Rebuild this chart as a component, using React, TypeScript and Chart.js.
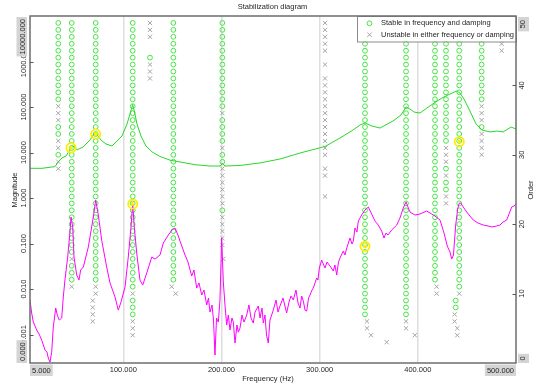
import React, { useEffect, useRef } from 'react';
import { Chart, registerables } from 'chart.js';

Chart.register(...registerables);

// ---------- data ----------
const chartTitle = 'Stabilization diagram';
const xTitle = 'Frequency (Hz)';
const magTitle = 'Magnitude';
const orderTitle = 'Order';
const legendLabels = ['Stable in frequency and damping', 'Unstable in either frequency or damping'];

const xTicks = [5, 100, 200, 300, 400, 500];
const xGrid = [100, 200, 300, 400];
const magTicks = [10000, 1000, 100, 10, 1, 0.1, 0.01, 0.001];
const magMinLabel = '0.000';
const orderTicks = [0, 10, 20, 30, 40, 50];

const greenFreq = [5, 17.2, 30.5, 33.8, 37.6, 41.7, 46.8, 49.8, 52.9, 59, 66.1, 69.7, 71.9, 74.3, 77.3, 82.4, 88.5, 93.6, 98.7, 103.8, 107.4, 109.6, 111.4, 114, 118, 123.1, 129.3, 137.4, 147.6, 157.8, 173, 188.3, 198.5, 201, 203.6, 218.9, 239.3, 259.6, 280, 295.3, 305.5, 320.7, 334, 341.1, 346.2, 353.3, 361.5, 374.7, 382.9, 388, 392, 396.1, 402.2, 409.3, 416.5, 424.6, 432.8, 439.4, 443, 447, 453.1, 459.3, 465.4, 473.5, 480.7, 486.8, 495, 500];
const greenMag = [4.5, 4.5, 4.9, 6.2, 7.6, 8.4, 12.6, 13.9, 11.4, 13.2, 18.8, 24.9, 27.5, 23.1, 18.8, 15.4, 13.9, 17.9, 23.1, 42.3, 77.6, 113, 77.6, 42.3, 23.1, 13.9, 10.3, 8.2, 6.8, 6.2, 5.4, 5.05, 5.05, 5.7, 5.05, 5.2, 5.9, 7.2, 9.75, 11.9, 13.6, 20.8, 31.3, 40.2, 44.5, 38.2, 34.5, 49.2, 66.7, 100, 90.4, 77.6, 73.8, 95, 122, 158, 193, 225, 203, 150, 81.7, 42.3, 31.3, 28.3, 29.7, 28.3, 36.3, 32.8];

const magentaFreq = [
  5, 6.7, 8.4, 11.8, 14.2, 16.9, 20.3, 22.3, 23.6, 25.4,
  27.1, 28.7, 31.2, 32.8, 34.8, 37.3, 38.9, 40.6, 43.4, 45.7,
  46.8, 48.5, 49.8, 52.6, 54.9, 56.6, 59.3, 64.4, 69.5, 71.9,
  74.6, 78, 83.1, 86.5, 91.6, 94.9, 97.4, 101.8, 105.1, 107.9,
  109.6, 111.2, 113.7, 117, 119.8, 123.9, 129, 132.3, 137.4, 140.8,
  145.9, 149.6, 152.7, 155.7, 157.8, 162.9, 165.9, 169.7, 172, 174.8,
  177.1, 179.9, 182.2, 185, 186.8, 188.3, 190.4, 191.9, 193.4, 195,
  196.8, 198.5, 200.2, 201.9, 203.6, 205.3, 207, 208.7, 210.7, 212.1,
  213.8, 215.8, 217.2, 218.9, 220.9, 223, 225.7, 228, 230.1, 232.4,
  234.2, 237.5, 239.3, 241.3, 242.6, 244.3, 245.9, 247.7, 249.4, 252.8,
  255.6, 257.6, 259.6, 262.7, 266.4, 268.8, 270.8, 273.2, 275.9, 278,
  280, 281.7, 283.4, 285.1, 286.8, 288.7, 290.2, 292.2, 293.5, 295.3,
  297, 298.3, 299.7, 302.1, 303.7, 305.5, 307.5, 310.6, 313.9, 315.6,
  317.4, 319.2, 320.7, 324.1, 325.8, 327.6, 330.9, 333, 334.3, 336,
  338, 339.4, 342.8, 346.2, 349.6, 353, 356.4, 359.7, 363.2, 365.5,
  367.6, 369.6, 373.4, 378.5, 381.8, 385.2, 388, 390, 392, 397.1,
  402.2, 409, 414.1, 417.5, 422.6, 426.7, 430, 432.8, 434.5, 436.3,
  438.6, 440.6, 442.2, 443.7, 446.3, 449.8, 453.1, 456.5, 461.3, 466.7,
  471.5, 475.6, 480.3, 483.7, 486.8, 490.5, 492.9, 495.6, 498, 500,
];
const magentaMag = [
  0.00573, 0.00297, 0.00188, 0.00126, 0.00103, 0.000757, 0.000456, 0.000412, 0.000305, 0.000249,
  0.000412, 0.00146, 0.00382, 0.00268, 0.00208, 0.00231, 0.00667, 0.0158, 0.0505, 0.179,
  0.382, 0.231, 0.0505, 0.0203, 0.0158, 0.0262, 0.0305, 0.0838, 0.382, 0.904,
  0.423, 0.119, 0.0305, 0.0136, 0.00667, 0.00345, 0.00492, 0.0111, 0.0505, 0.231,
  0.738, 0.231, 0.0618, 0.0158, 0.0122, 0.0225, 0.0505, 0.0456, 0.0559, 0.103,
  0.154, 0.198, 0.219, 0.154, 0.113, 0.0559, 0.0392, 0.0193, 0.0262, 0.0105,
  0.0136, 0.00738, 0.0095, 0.00445, 0.00634, 0.00312, 0.00445, 0.00208, 0.000354, 0.00231,
  0.00188, 0.00573, 0.132, 0.0143, 0.00445, 0.00162, 0.00268, 0.00126, 0.00231, 0.00188,
  0.00065, 0.00162, 0.00113, 0.00139, 0.00268, 0.00188, 0.00268, 0.00445, 0.00231, 0.00179,
  0.00312, 0.00423, 0.00231, 0.00382, 0.00179, 0.00268, 0.000975, 0.00065, 0.00208, 0.00345,
  0.00573, 0.00312, 0.00423, 0.00634, 0.00297, 0.00518, 0.00702, 0.00573, 0.0095, 0.00492,
  0.00382, 0.00702, 0.00545, 0.00345, 0.00328, 0.00634, 0.00738, 0.0095, 0.0105, 0.0136,
  0.0175, 0.0158, 0.029, 0.0434, 0.0354, 0.029, 0.0392, 0.032, 0.0249, 0.0337,
  0.0203, 0.0392, 0.048, 0.0684, 0.0559, 0.0796, 0.132, 0.0975, 0.113, 0.219,
  0.179, 0.312, 0.423, 0.545, 0.634, 0.445, 0.312, 0.255, 0.188, 0.132,
  0.17, 0.154, 0.198, 0.255, 0.363, 0.603, 0.817, 0.634, 0.492, 0.423,
  0.445, 0.518, 0.445, 0.402, 0.328, 0.17, 0.0881, 0.065, 0.0456, 0.0559,
  0.255, 0.573, 0.776, 0.776, 0.634, 0.492, 0.402, 0.328, 0.282, 0.255,
  0.243, 0.231, 0.243, 0.255, 0.297, 0.328, 0.445, 0.634, 0.667, 0.738,
];

// selected modes (yellow)
const selectedFreq = [46.8, 71.9, 109.6, 346.2, 442.2];
const selectedMag = [12.7, 25.5, 0.74, 0.0867, 17.3];

// stabilization columns: pattern read for orders 50 -> 1 ('o' stable, 'x' unstable, '.' none)
const modeFreq = [33.8, 47.5, 71.9, 68.9, 109.6, 127.2, 151, 149.3, 153.4, 200.9, 201.9, 305.5, 346.2, 348.2, 352.3, 368.3, 388, 397, 417.5, 419.2, 428.7, 442.2, 438.6, 437.5, 440.2, 465, 485.4];
const modePattern = [
  '.ooooooooo oooxxxooxx oxx....... .......... ..........',
  '.ooooooooo oooooooooo oooooooooo oooooxooox ..........',
  '.ooooooooo oooooooooo oooooooooo ooooooooox x.........',
  '.......... .......... .......... .......... .xxxx.....',
  '.ooooooooo oooooooooo oooooooooo oooooooooo xoooxxx...',
  '.xxx..oxxx .......... .......... .......... ..........',
  '.ooooooooo oooooooooo oooooooooo ooooooooo. ..........',
  '.......... .......... .......... .........x ..........',
  '.......... .......... .......... .......... x.........',
  '.ooooooooo ooooxoooox ooxxxxxxox xxxx...... ..........',
  '.......... .......... .......... .....x.... ..........',
  '.xxxxx.x.x xxxxxxxxxx x.xx..x... .......... ..........',
  '.ooooooooo oooooooooo oooooooooo oooooooooo oooo......',
  '.......... .......... .......... .......... ....xx....',
  '.......... .......... .......... .......... ......x...',
  '.......... .......... .......... .......... .......x..',
  '.ooooooooo oooooooooo oooooooooo oooooooooo ooooxx....',
  '.......... .......... .......... .......... ......x...',
  '.ooooooooo oooooooooo oooooooooo ooooooooo. ..........',
  '.......... .......... .......... .........x x.........',
  '.ooooooooo ooooooooox xxoxooxx.. .......... ..........',
  '.ooooooooo oooooooooo oooooooooo oooooooooo x.........',
  '.......... .......... .......... .......... .oo.......',
  '.......... .......... .......... .......... ...xx.....',
  '.......... .......... .......... .......... .....xx...',
  '.ooooooooo oooxxxoxxx x......... .......... ..........',
  '....xx.... .......... .......... .......... ..........',
];

// ---------- styles ----------
const FONT = '7.5px "Liberation Sans", Arial, sans-serif';
const TEXT = '#262626';
const BOX = '#d4d4d4';
const GREEN_LINE = 'rgb(40,215,40)';
const GREEN_MARK = 'rgb(70,228,70)';
const GRAY_MARK = '#a4a4a4';
const MAGENTA = '#ff00ff';
const YELLOW = '#ffec00';

function markerPoints(kind: string) {
  const pts: { x: number; y: number }[] = [];
  modeFreq.forEach((f, i) => {
    const s = modePattern[i].replace(/ /g, '');
    for (let k = 0; k < s.length; k++) {
      if (s[k] === kind) pts.push({ x: f, y: 50 - k });
    }
  });
  return pts;
}

function vText(ctx: CanvasRenderingContext2D, text: string, x: number, y: number) {
  ctx.save();
  ctx.translate(x, y);
  ctx.rotate(-Math.PI / 2);
  ctx.textAlign = 'center';
  ctx.textBaseline = 'middle';
  ctx.fillText(text, 0, 0);
  ctx.restore();
}

const decorPlugin = {
  id: 'decor',
  afterDraw(chart: any) {
    const { ctx, chartArea: a, scales } = chart;
    const xs = scales.x;
    const ms = scales.mag;
    const os = scales.order;
    ctx.save();
    ctx.font = FONT;

    // legend box
    const lw = 159;
    const lh = 25.5;
    const lx = a.right - lw;
    const ly = a.top;
    ctx.fillStyle = '#ffffff';
    ctx.fillRect(lx, ly, lw, lh);
    ctx.strokeStyle = '#8c8c8c';
    ctx.lineWidth = 1;
    ctx.strokeRect(lx + 0.5, ly + 0.5, lw, lh);
    ctx.strokeStyle = GREEN_MARK;
    ctx.beginPath();
    ctx.arc(lx + 12.5, ly + 7.3, 2.4, 0, Math.PI * 2);
    ctx.stroke();
    ctx.strokeStyle = GRAY_MARK;
    ctx.beginPath();
    const cx = lx + 12.5, cy = ly + 18.7, h = 2.2;
    ctx.moveTo(cx - h, cy - h); ctx.lineTo(cx + h, cy + h);
    ctx.moveTo(cx - h, cy + h); ctx.lineTo(cx + h, cy - h);
    ctx.stroke();
    ctx.fillStyle = TEXT;
    ctx.textAlign = 'left';
    ctx.textBaseline = 'middle';
    ctx.fillText(legendLabels[0], lx + 24, ly + 7.3);
    ctx.fillText(legendLabels[1], lx + 24, ly + 18.7);

    // frame
    ctx.strokeStyle = '#6e6e6e';
    ctx.lineWidth = 1.5;
    ctx.strokeRect(a.left, a.top, a.right - a.left, a.bottom - a.top);

    // left axis ticks + labels (edge label boxes drawn afterwards, on top)
    ctx.strokeStyle = '#555';
    ctx.lineWidth = 1;
    const leftX = 24;
    magTicks.forEach((v, i) => {
      if (i === 0) return;
      const y = ms.getPixelForValue(v);
      ctx.beginPath();
      ctx.moveTo(a.left, Math.round(y) + 0.5);
      ctx.lineTo(a.left + 3.5, Math.round(y) + 0.5);
      ctx.stroke();
      ctx.fillStyle = TEXT;
      vText(ctx, v.toFixed(3), leftX, y);
    });
    {
      const label = magTicks[0].toFixed(3);
      const w = ctx.measureText(label).width + 4;
      ctx.fillStyle = BOX;
      ctx.fillRect(16.5, a.top + 1, 10.5, w);
      ctx.fillStyle = TEXT;
      vText(ctx, label, leftX - 1, a.top + 1 + w / 2);
    }
    {
      const w = ctx.measureText(magMinLabel).width + 4;
      ctx.fillStyle = BOX;
      ctx.fillRect(16.5, a.bottom - w, 10.5, w);
      ctx.fillStyle = TEXT;
      vText(ctx, magMinLabel, leftX - 1, a.bottom - w / 2);
    }

    // right axis ticks + labels
    const rightX = 522;
    orderTicks.forEach((v, i) => {
      const y = os.getPixelForValue(v);
      const label = String(v);
      const w = ctx.measureText(label).width + 4;
      if (i === 0) {
        ctx.fillStyle = BOX;
        ctx.fillRect(518, a.bottom - w - 1, 11, w + 1);
        ctx.fillStyle = TEXT;
        vText(ctx, label, rightX + 1, a.bottom - (w + 1) / 2);
        return;
      }
      if (i === orderTicks.length - 1) {
        ctx.fillStyle = BOX;
        ctx.fillRect(518, a.top + 1, 11, w + 2);
        ctx.fillStyle = TEXT;
        vText(ctx, label, rightX + 1, a.top + 1 + (w + 2) / 2);
        return;
      }
      ctx.beginPath();
      ctx.moveTo(a.right - 3.5, Math.round(y) + 0.5);
      ctx.lineTo(a.right, Math.round(y) + 0.5);
      ctx.stroke();
      ctx.fillStyle = TEXT;
      vText(ctx, label, rightX, y);
    });

    // bottom labels
    const by = 369.5;
    ctx.textBaseline = 'middle';
    xTicks.forEach((v, i) => {
      const x = xs.getPixelForValue(v);
      const label = v.toFixed(3);
      const w = ctx.measureText(label).width + 4;
      if (i === 0) {
        ctx.fillStyle = BOX;
        ctx.fillRect(a.left, 364.5, w, 11.5);
        ctx.fillStyle = TEXT;
        ctx.textAlign = 'left';
        ctx.fillText(label, a.left + 2, by + 1);
        return;
      }
      if (i === xTicks.length - 1) {
        ctx.fillStyle = BOX;
        ctx.fillRect(a.right - w, 364.5, w, 11.5);
        ctx.fillStyle = TEXT;
        ctx.textAlign = 'right';
        ctx.fillText(label, a.right - 2, by + 1);
        return;
      }
      ctx.fillStyle = TEXT;
      ctx.textAlign = 'center';
      ctx.fillText(label, x, by);
    });

    // titles
    ctx.fillStyle = TEXT;
    ctx.textAlign = 'center';
    ctx.fillText(chartTitle, 272.5, 6.5);
    ctx.fillText(xTitle, 268, 378.5);
    vText(ctx, magTitle, 15, 190);
    vText(ctx, orderTitle, 531, 190);

    ctx.restore();
  },
};

export default function App() {
  const canvasRef = useRef<HTMLCanvasElement | null>(null);

  useEffect(() => {
    const canvas = canvasRef.current;
    if (!canvas) return;
    const green = greenFreq.map((f, i) => ({ x: f, y: greenMag[i] }));
    const magenta = magentaFreq.map((f, i) => ({ x: f, y: magentaMag[i] }));
    const selected = selectedFreq.map((f, i) => ({ x: f, y: selectedMag[i] }));

    const chart = new Chart(canvas, {
      type: 'line',
      data: {
        datasets: [
          {
            label: 'selected ring',
            data: selected,
            yAxisID: 'mag',
            showLine: false,
            pointStyle: 'circle',
            pointRadius: 4.6,
            pointBorderWidth: 1.8,
            pointBorderColor: YELLOW,
            pointBackgroundColor: 'rgba(0,0,0,0)',
          },
          {
            label: 'selected dot',
            data: selected,
            yAxisID: 'mag',
            showLine: false,
            pointStyle: 'circle',
            pointRadius: 1.9,
            pointBorderWidth: 0,
            pointBackgroundColor: YELLOW,
          },
          {
            label: 'sum',
            data: green,
            yAxisID: 'mag',
            borderColor: GREEN_LINE,
            borderWidth: 1,
            pointRadius: 0,
            tension: 0,
          },
          {
            label: 'frf',
            data: magenta,
            yAxisID: 'mag',
            borderColor: MAGENTA,
            borderWidth: 1,
            pointRadius: 0,
            tension: 0,
          },
          {
            label: legendLabels[0],
            data: markerPoints('o'),
            yAxisID: 'order',
            showLine: false,
            pointStyle: 'circle',
            pointRadius: 2.4,
            pointBorderWidth: 1,
            pointBorderColor: GREEN_MARK,
            pointBackgroundColor: 'rgba(0,0,0,0)',
          },
          {
            label: legendLabels[1],
            data: markerPoints('x'),
            yAxisID: 'order',
            showLine: false,
            pointStyle: 'crossRot',
            pointRadius: 3,
            pointBorderWidth: 1,
            pointBorderColor: GRAY_MARK,
          },
        ],
      },
      options: {
        animation: false,
        responsive: false,
        devicePixelRatio: 1,
        events: [],
        layout: { padding: { left: 30, right: 29, top: 16, bottom: 24 } },
        plugins: {
          legend: { display: false },
          title: { display: false },
          tooltip: { enabled: false },
        },
        scales: {
          x: {
            type: 'linear',
            min: 5,
            max: 500,
            ticks: { display: false },
            border: { display: false },
            grid: { color: '#dedede', lineWidth: 1.5, drawTicks: false },
            afterBuildTicks: (s: any) => {
              s.ticks = xGrid.map((v) => ({ value: v }));
            },
          },
          mag: {
            type: 'logarithmic',
            position: 'left',
            min: 0.000237,
            max: 10000,
            display: false,
          },
          order: {
            type: 'linear',
            position: 'right',
            min: 0,
            max: 50,
            display: false,
          },
        },
      },
      plugins: [decorPlugin],
    } as any);

    return () => chart.destroy();
  }, []);

  return (
    <div style={{ position: 'absolute', left: 0, top: 0, width: 545, height: 387, background: '#fff' }}>
      <canvas ref={canvasRef} width={545} height={387} style={{ display: 'block' }} />
    </div>
  );
}
